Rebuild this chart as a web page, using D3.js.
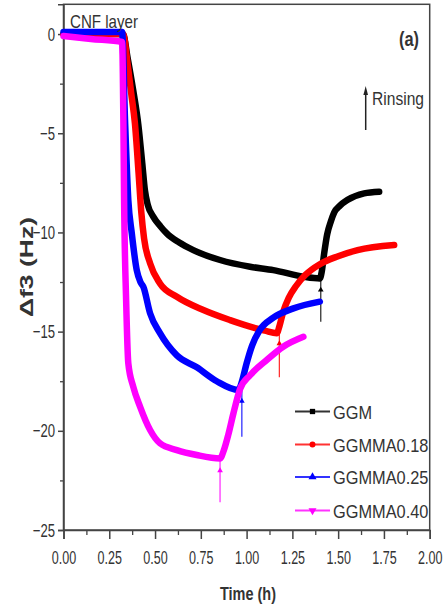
<!DOCTYPE html>
<html><head><meta charset="utf-8">
<script src="https://cdn.jsdelivr.net/npm/d3@7"></script>
<style>body{margin:0;background:#fff}svg{display:block}text{font-family:Arial,"Liberation Sans",sans-serif;fill:#333}</style>
</head><body>
<svg id="c" width="448" height="612"></svg>
<script>
// ---- data ----
const seriesNames = ["GGM", "GGMMA0.18", "GGMMA0.25", "GGMMA0.40"];
const ggmT  = [0, 0.1, 0.2, 0.3, 0.325, 0.35, 0.38, 0.409, 0.43, 0.445, 0.46, 0.49, 0.53, 0.564, 0.63, 0.709, 0.855, 1.019, 1.146, 1.31, 1.40, 1.41, 1.423, 1.44, 1.46, 1.478, 1.51, 1.55, 1.642, 1.724];
const ggmF  = [0, 0, 0, 0, 0, -1.2, -2.8, -4.6, -6.5, -7.9, -8.6, -9.2, -9.7, -10.05, -10.5, -10.89, -11.39, -11.73, -11.9, -12.23, -12.32, -12.0, -11.1, -10.1, -9.45, -9.0, -8.65, -8.37, -8.03, -7.95];
const g18T  = [0, 0.1, 0.2, 0.3, 0.325, 0.35, 0.37, 0.39, 0.41, 0.425, 0.44, 0.473, 0.527, 0.619, 0.764, 0.91, 1.019, 1.10, 1.165, 1.18, 1.20, 1.23, 1.27, 1.32, 1.40, 1.50, 1.606, 1.806];
const g18F  = [0, 0, 0, 0, 0, -1.5, -3.0, -4.5, -7.0, -9.0, -10.3, -11.56, -12.57, -13.24, -13.91, -14.42, -14.75, -14.95, -15.08, -14.7, -14.0, -13.3, -12.7, -12.15, -11.6, -11.2, -10.89, -10.63];
const g25T  = [0, 0.1, 0.2, 0.3, 0.32, 0.336, 0.354, 0.373, 0.40, 0.42, 0.436, 0.473, 0.527, 0.619, 0.728, 0.837, 0.955, 0.975, 1.0, 1.03, 1.07, 1.146, 1.256, 1.40];
const g25F  = [0.1, 0.1, 0.1, 0.1, 0.1, -4.33, -8.37, -10.05, -11.9, -12.5, -12.74, -14.08, -15.08, -16.2, -16.8, -17.5, -17.94, -17.5, -16.6, -15.7, -14.95, -14.3, -13.83, -13.49];
const g40T  = [0, 0.15, 0.32, 0.327, 0.331, 0.342, 0.354, 0.381, 0.418, 0.473, 0.527, 0.619, 0.728, 0.855, 0.875, 0.9, 0.928, 0.964, 1.019, 1.11, 1.2, 1.31];
const g40F  = [-0.1, -0.25, -0.4, -4.33, -8.37, -13.4, -16.6, -17.78, -18.78, -19.96, -20.63, -20.97, -21.22, -21.39, -21.0, -20.2, -19.12, -17.9, -17.2, -16.43, -15.76, -15.26];
const spikeT    = [1.405, 1.179, 0.974, 0.855];
const spikeHigh = [-12.3, -15.0, -17.9, -21.4];
const spikeLow  = [-14.5, -17.3, -20.3, -23.6];
const xTicks = [0, 0.25, 0.5, 0.75, 1.0, 1.25, 1.5, 1.75, 2.0];
const yTicks = [0, -5, -10, -15, -20, -25];

// ---- styles ----
const colors = ["#000000", "#ff0000", "#0000ff", "#ff00ff"];
const symbols = [d3.symbolSquare, d3.symbolCircle, d3.symbolTriangle, d3.symbolTriangle];
const symRot = [0, 0, 0, 180];
const allT = [ggmT, g18T, g25T, g40T], allF = [ggmF, g18F, g25F, g40F];

const svg = d3.select("#c");
const L = 63.5, R = 429.7, T = 4.3, B = 530;
const x = d3.scaleLinear().domain([0, 2]).range([L, R]);
const y = d3.scaleLinear().domain([-25, 1.5]).range([B, T]);

function squeeze(sel, f) {
  sel.each(function () {
    const w = this.getComputedTextLength();
    d3.select(this).attr("textLength", w * f).attr("lengthAdjust", "spacingAndGlyphs");
  });
}

// frame
svg.append("rect").attr("x", L).attr("y", T).attr("width", R - L).attr("height", B - T)
  .attr("fill", "none").attr("stroke", "#444").attr("stroke-width", 1.5);

// minor ticks
const xMinor = d3.range(0.125, 2, 0.25);
const yMinor = d3.range(-22.5, 0, 5);
svg.append("g").attr("transform", `translate(0,${B})`)
  .call(d3.axisBottom(x).tickValues(xMinor).tickSize(5).tickFormat(""))
  .call(g => g.select(".domain").remove())
  .selectAll("line").attr("stroke", "#444").attr("stroke-width", 1.3);
svg.append("g").attr("transform", `translate(${L},0)`)
  .call(d3.axisLeft(y).tickValues(yMinor).tickSize(3.5).tickFormat(""))
  .call(g => g.select(".domain").remove())
  .selectAll("line").attr("stroke", "#444").attr("stroke-width", 1.3);

// major axes
const gx = svg.append("g").attr("transform", `translate(0,${B})`)
  .call(d3.axisBottom(x).tickValues(xTicks).tickSize(9).tickPadding(12).tickFormat(d3.format(".2f")));
gx.select(".domain").attr("stroke", "#444").attr("stroke-width", 1.5);
gx.selectAll("line").attr("stroke", "#444").attr("stroke-width", 1.5);
gx.selectAll("text").attr("font-size", 19).attr("font-family", "Arial, Liberation Sans").attr("fill", "#3a3a3a").call(squeeze, 0.66);

const gy = svg.append("g").attr("transform", `translate(${L},0)`)
  .call(d3.axisLeft(y).tickValues(yTicks).tickSize(5.5).tickPadding(3).tickFormat(d3.format("d")));
gy.select(".domain").attr("stroke", "#444").attr("stroke-width", 1.5);
gy.selectAll("line").attr("stroke", "#444").attr("stroke-width", 1.5);
gy.selectAll("text").attr("font-size", 19).attr("font-family", "Arial, Liberation Sans").attr("fill", "#3a3a3a").call(squeeze, 0.69);

// curves
const line = d3.line().x(d => x(d[0])).y(d => y(d[1])).curve(d3.curveMonotoneX);
const plot = svg.append("g");
allT.forEach((ts, i) => {
  const pts = ts.map((t, j) => [t, allF[i][j]]);
  // rinsing spike
  plot.append("line").attr("x1", x(spikeT[i])).attr("x2", x(spikeT[i]))
    .attr("y1", y(spikeHigh[i])).attr("y2", y(spikeLow[i]))
    .attr("stroke", colors[i]).attr("stroke-width", 1.3).attr("opacity", 0.8);
  plot.append("path").attr("d", d3.symbol(d3.symbolTriangle, 14)())
    .attr("transform", `translate(${x(spikeT[i])},${y(spikeHigh[i] - 0.6)})`)
    .attr("fill", colors[i]);
  plot.append("path").datum(pts).attr("d", line)
    .attr("fill", "none").attr("stroke", colors[i]).attr("stroke-width", 6.5)
    .attr("stroke-linejoin", "round").attr("stroke-linecap", "round");
});

// legend
const lg = svg.append("g");
const legY = [411.5, 444.5, 477, 510.5];
seriesNames.forEach((n, i) => {
  lg.append("line").attr("x1", 295).attr("x2", 330).attr("y1", legY[i]).attr("y2", legY[i])
    .attr("stroke", colors[i]).attr("stroke-width", 2.2).attr("opacity", 0.8);
  lg.append("path").attr("d", d3.symbol(symbols[i], 28)())
    .attr("transform", `translate(312.5,${legY[i]}) rotate(${symRot[i]})`).attr("fill", colors[i]);
  lg.append("text").attr("x", 333).attr("y", legY[i] + 7).attr("font-size", 19).text(n)
    .attr("fill", "#2a2a2a").call(squeeze, 0.86);
});

// annotations
svg.append("text").attr("x", 70).attr("y", 28).attr("font-size", 19).text("CNF layer")
  .attr("textLength", 68).attr("lengthAdjust", "spacingAndGlyphs");
svg.append("text").attr("x", 399).attr("y", 46).attr("font-size", 21).attr("font-weight", "bold").text("(a)")
  .attr("textLength", 20).attr("lengthAdjust", "spacingAndGlyphs").attr("fill", "#222");
svg.append("text").attr("x", 372).attr("y", 105).attr("font-size", 19).text("Rinsing")
  .attr("textLength", 52).attr("lengthAdjust", "spacingAndGlyphs").attr("fill", "#222");
svg.append("line").attr("x1", 365.7).attr("x2", 365.7).attr("y1", 130).attr("y2", 93)
  .attr("stroke", "#222").attr("stroke-width", 1.5);
svg.append("path").attr("d", "M365.7,86 L368,95 L363.4,95 Z").attr("fill", "#222");

svg.append("text").attr("x", 220).attr("y", 600).attr("font-size", 19).attr("font-weight", "bold").text("Time (h)")
  .attr("textLength", 56).attr("lengthAdjust", "spacingAndGlyphs").attr("fill", "#222");
svg.append("text").attr("transform", "translate(33,267) rotate(-90)").attr("text-anchor", "middle")
  .attr("font-size", 18).attr("font-weight", "bold").text("Δf3 (Hz)")
  .attr("textLength", 100).attr("lengthAdjust", "spacingAndGlyphs").attr("fill", "#222");
</script>
</body></html>
